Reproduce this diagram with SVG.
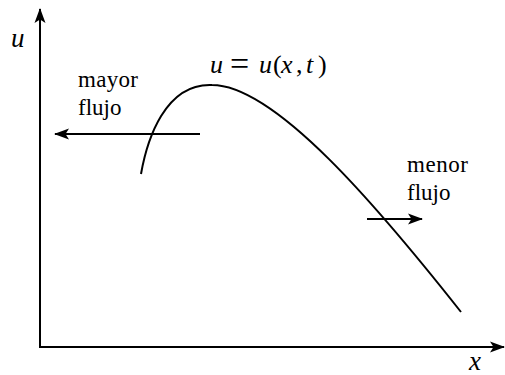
<svg xmlns="http://www.w3.org/2000/svg" width="505" height="375" viewBox="0 0 505 375">
<style>
.ln{fill:none;stroke:#000;stroke-width:2}
text{fill:#000;font-family:'Liberation Serif','Times New Roman',serif}
.i{font-style:italic}
.lb{font-size:23px}
</style>
<defs>
<marker id="ah" markerUnits="userSpaceOnUse" markerWidth="20" markerHeight="16" viewBox="-15 -8 17 16" refX="0" refY="0" orient="auto">
<path d="M1,0 L-14,-5.5 L-10.5,0 L-14,5.5 Z" fill="#000"/>
</marker>
</defs>
<g id="axes">
<line class="ln" x1="40" y1="347" x2="40" y2="9" marker-end="url(#ah)"/>
<line class="ln" x1="39" y1="347" x2="504" y2="347" marker-end="url(#ah)"/>
<text class="i" x="11" y="47" font-size="27">u</text>
<text class="i" x="469" y="370" font-size="27">x</text>
</g>
<g id="curve">
<path class="ln" d="M141,174 C147,140 165,83 212,85 C275,85 378,207 461,312"/>
<text y="73" font-size="26"><tspan class="i" x="210">u</tspan><tspan x="230" font-size="34" dy="2">=</tspan><tspan class="i" x="259" dy="-2">u</tspan><tspan x="273">(</tspan><tspan class="i" x="281">x</tspan><tspan x="296">,</tspan><tspan class="i" x="306">t</tspan><tspan x="318">)</tspan></text>
</g>
<g id="connectors">
<line class="ln" x1="200" y1="134" x2="55" y2="134" marker-end="url(#ah)"/>
<line class="ln" x1="367" y1="219" x2="422" y2="219" marker-end="url(#ah)"/>
</g>
<g id="mayor">
<text class="lb" x="78" y="87" textLength="60">mayor</text>
<text class="lb" x="78" y="115">flujo</text>
</g>
<g id="menor">
<text class="lb" x="407" y="172" textLength="61">menor</text>
<text class="lb" x="407" y="200">flujo</text>
</g>
</svg>
